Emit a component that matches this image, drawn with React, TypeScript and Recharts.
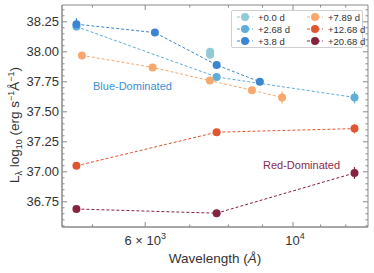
import { LineChart, Line, XAxis, YAxis, ErrorBar, ReferenceArea } from "recharts";

// wavelength (Angstrom) and log10 luminosity per epoch
const wl00 = [7510, 7510];
const lum00 = [38.0, 37.975];

const wl268 = [4730, 7680, 12370];
const lum268 = [38.21, 37.79, 37.62];
const err268 = [0.02, 0.02, 0.05];

const wl38 = [4730, 6204, 7680, 8917];
const lum38 = [38.23, 38.16, 37.89, 37.75];
const err38 = [0.05, 0.02, 0.02, 0.02];

const wl789 = [4821, 6155, 7502, 8677, 9630];
const lum789 = [37.97, 37.87, 37.76, 37.68, 37.62];
const err789 = [0.02, 0.02, 0.02, 0.02, 0.05];

const wl1268 = [4730, 7680, 12370];
const lum1268 = [37.05, 37.33, 37.36];
const err1268 = [0.02, 0.02, 0.04];

const wl2068 = [4730, 7680, 12370];
const lum2068 = [36.69, 36.655, 36.99];
const err2068 = [0.02, 0.02, 0.05];

const xTicks = [5000, 6000, 7000, 8000, 9000, 10000, 11000, 12000];
const yTicks = Array.from({ length: 37 }, (_, i) => (3655 + i * 5) / 100);

const PL = 62;
const PR = 368;
const PT = 5;
const PB = 227;
const AX = "#8a8a8a";
const TXT = "#333";
const FONT = "Liberation Sans, Arial, sans-serif";

const toRows = (xs: number[], ys: number[], es?: number[]) =>
  xs.map((x, i) => ({ x, y: ys[i], e: es ? es[i] : 0 }));

const series = [
  { name: "+0.0 d", color: "#92cad6", data: toRows(wl00, lum00), line: false },
  { name: "+2.68 d", color: "#5eaed9", data: toRows(wl268, lum268, err268), line: true },
  { name: "+3.8 d", color: "#3a86d1", data: toRows(wl38, lum38, err38), line: true },
  { name: "+7.89 d", color: "#f8a86d", data: toRows(wl789, lum789, err789), line: true },
  { name: "+12.68 d", color: "#e0562f", data: toRows(wl1268, lum1268, err1268), line: true },
  { name: "+20.68 d", color: "#86243f", data: toRows(wl2068, lum2068, err2068), line: true },
];

function YTick(props: any) {
  const { y, payload } = props;
  const v = payload.value;
  const major = Math.abs(v * 4 - Math.round(v * 4)) < 1e-6;
  const len = major ? 5 : 2.5;
  return (
    <g>
      <line x1={PL} x2={PL + len} y1={y} y2={y} stroke={AX} />
      <line x1={PR} x2={PR - len} y1={y} y2={y} stroke={AX} />
      {major && (
        <text x={PL - 3} y={y} dy={4.5} textAnchor="end" fontSize={13} fill={TXT} fontFamily={FONT}>
          {v.toFixed(2)}
        </text>
      )}
    </g>
  );
}

function XTick(props: any) {
  const { x, payload } = props;
  const v = payload.value;
  const major = v === 6000 || v === 10000;
  const len = major ? 5 : 2.5;
  return (
    <g>
      <line x1={x} x2={x} y1={PB} y2={PB - len} stroke={AX} />
      <line x1={x} x2={x} y1={PT} y2={PT + len} stroke={AX} />
      {v === 6000 && (
        <text x={x} y={245} textAnchor="middle" fontSize={13} fill={TXT} fontFamily={FONT}>
          6 × 10<tspan dy={-6} fontSize={9}>3</tspan>
        </text>
      )}
      {v === 10000 && (
        <text x={x + 2} y={245} textAnchor="middle" fontSize={13} fill={TXT} fontFamily={FONT}>
          10<tspan dy={-6} fontSize={9}>4</tspan>
        </text>
      )}
    </g>
  );
}

function LegendBox() {
  return (
    <div
      style={{
        position: "absolute",
        left: 231,
        top: 10,
        width: 132,
        height: 38,
        border: "1px solid #cfcfcf",
        borderRadius: 2,
        background: "rgba(255,255,255,0.9)",
        boxSizing: "border-box",
        fontFamily: FONT,
        fontSize: 9.5,
        color: TXT,
      }}
    >
      {series.map((s, i) => {
        const col = i < 3 ? 0 : 1;
        const row = i % 3;
        return (
          <div
            key={s.name}
            style={{
              position: "absolute",
              left: 4 + col * 70,
              top: 0 + row * 12,
              height: 12,
              display: "flex",
              alignItems: "center",
              whiteSpace: "nowrap",
            }}
          >
            <svg width={18} height={12}>
              <line x1={1} x2={17} y1={6} y2={6} stroke={s.color} strokeDasharray="3 2" />
              <circle cx={9} cy={6} r={4} fill={s.color} />
            </svg>
            <span style={{ marginLeft: 4 }}>{s.name}</span>
          </div>
        );
      })}
    </div>
  );
}

export default function App() {
  return (
    <div style={{ position: "absolute", left: 0, top: 0, width: 374, height: 273, background: "#fff" }}>
      <LineChart width={374} height={273} margin={{ top: PT, right: 374 - PR, bottom: 0, left: 0 }}>
        <XAxis
          dataKey="x"
          type="number"
          scale="log"
          domain={[4500, 12960]}
          ticks={xTicks}
          interval={0}
          allowDataOverflow
          height={273 - PB}
          axisLine={{ stroke: AX }}
          tickLine={false}
          tickSize={0}
          tick={<XTick />}
          label={{
            content: () => (
              <text x={215} y={263} textAnchor="middle" fontSize={13.5} fill={TXT} fontFamily={FONT}>
                Wavelength (<tspan fontStyle="italic">Å</tspan>)
              </text>
            ),
          }}
        />
        <YAxis
          type="number"
          domain={[36.54, 38.39]}
          ticks={yTicks}
          interval={0}
          allowDataOverflow
          width={PL}
          axisLine={{ stroke: AX }}
          tickLine={false}
          tickSize={0}
          tick={<YTick />}
          label={{
            content: () => (
              <text
                x={0}
                y={0}
                transform="translate(19,125) rotate(-90)"
                textAnchor="middle"
                fontSize={13.5}
                fill={TXT}
                fontFamily={FONT}
              >
                L<tspan dy={3} fontSize={9}>λ</tspan>
                <tspan dy={-3}> log</tspan>
                <tspan dy={3} fontSize={9}>10</tspan>
                <tspan dy={-3}> (erg s</tspan>
                <tspan dy={-5} fontSize={9}>−1</tspan>
                <tspan dy={5}>Å</tspan>
                <tspan dy={-5} fontSize={9}>−1</tspan>
                <tspan dy={5}>)</tspan>
              </text>
            ),
          }}
        />
        <ReferenceArea
          x1={4500}
          x2={12960}
          y1={36.54}
          y2={38.39}
          fill="none"
          stroke={AX}
          strokeWidth={1}
          ifOverflow="visible"
        />
        {series.map((s) => (
          <Line
            key={s.name}
            data={s.data}
            dataKey="y"
            name={s.name}
            stroke={s.line ? s.color : "none"}
            strokeWidth={1}
            strokeDasharray="3 2"
            dot={{ r: 4, fill: s.color, stroke: "none" }}
            activeDot={false}
            isAnimationActive={false}
          >
            <ErrorBar dataKey="e" width={0} stroke={s.color} strokeWidth={1.2} direction="y" />
          </Line>
        ))}
      </LineChart>
      <div
        style={{
          position: "absolute",
          left: 93,
          top: 80,
          fontFamily: FONT,
          fontSize: 11,
          color: "#3c8fd4",
          whiteSpace: "nowrap",
        }}
      >
        Blue-Dominated
      </div>
      <div
        style={{
          position: "absolute",
          left: 263,
          top: 159,
          fontFamily: FONT,
          fontSize: 11,
          color: "#8b2a48",
          whiteSpace: "nowrap",
        }}
      >
        Red-Dominated
      </div>
      <LegendBox />
    </div>
  );
}
